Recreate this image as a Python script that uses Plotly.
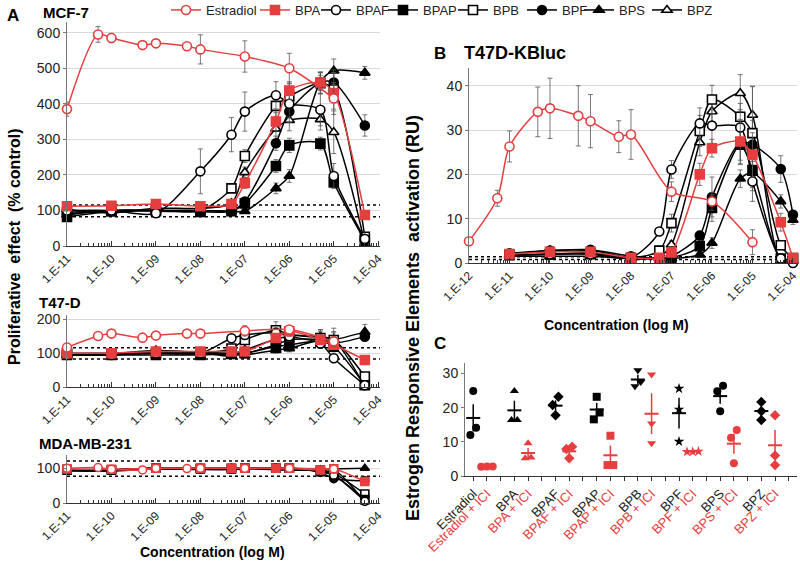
import numpy as np
import plotly.graph_objects as go

RED = "#e63e3f"
BLACK = "#000000"
ERR_COL = "#555555"
GRID = "#d9d9d9"
FONT = "Liberation Sans, Arial, sans-serif"

# ---------------- data ----------------
SERIES = ["Estradiol", "BPA", "BPAF", "BPAP", "BPB", "BPF", "BPS", "BPZ"]

# Panel A: proliferation (% control)
E2_CONC_A = [1e-11, 5e-11, 1e-10, 5e-10, 1e-9, 5e-9, 1e-8, 1e-7, 1e-6, 1e-5]
BP_CONC_A = [1e-11, 1e-10, 1e-9, 1e-8, 5e-8, 1e-7, 5e-7, 1e-6, 5e-6, 1e-5, 5e-5]

MCF7 = {
    "Estradiol": [385, 595, 585, 565, 570, 562, 553, 533, 500, 415],
    "BPA": [112, 113, 118, 112, 118, 177, 350, 437, 460, 430, 87],
    "BPAF": [100, 100, 92, 210, 313, 378, 424, 400, 383, 197, 20],
    "BPAP": [82, 97, 98, 96, 98, 120, 225, 283, 288, 179, 15],
    "BPB": [95, 100, 100, 100, 162, 253, 394, 421, 458, 440, 26],
    "BPF": [90, 100, 100, 100, 100, 125, 289, 378, 460, 460, 339],
    "BPS": [88, 100, 100, 100, 98, 98, 162, 197, 462, 493, 487],
    "BPZ": [103, 93, 106, 106, 120, 207, 330, 354, 356, 320, 7],
}
MCF7_ERR = {
    "Estradiol": [20, 22, 13, 6, 6, 6, 41, 44, 42, 45],
    "BPA": [5, 5, 5, 5, 6, 15, 25, 25, 20, 25, 6],
    "BPAF": [5, 5, 5, 63, 48, 55, 38, 40, 45, 35, 6],
    "BPAP": [5, 5, 5, 5, 5, 8, 18, 20, 18, 15, 5],
    "BPB": [5, 5, 5, 5, 10, 18, 30, 35, 30, 55, 6],
    "BPF": [5, 5, 5, 5, 5, 8, 20, 30, 30, 28, 30],
    "BPS": [5, 5, 5, 5, 5, 5, 15, 18, 25, 33, 18],
    "BPZ": [5, 5, 5, 5, 8, 15, 30, 30, 30, 60, 5],
}

T47D = {
    "Estradiol": [117, 151, 158, 146, 152, 158, 158, 166, 170, 135],
    "BPA": [100, 100, 105, 105, 105, 105, 145, 165, 140, 125, 80],
    "BPAF": [95, 95, 100, 100, 144, 154, 160, 150, 129, 85, 5],
    "BPAP": [95, 95, 95, 95, 98, 100, 120, 125, 135, 119, 5],
    "BPB": [98, 98, 100, 100, 114, 139, 168, 156, 145, 139, 31],
    "BPF": [100, 100, 102, 102, 100, 100, 125, 140, 140, 130, 149],
    "BPS": [95, 95, 102, 102, 95, 95, 109, 114, 140, 140, 163],
    "BPZ": [95, 98, 108, 102, 92, 109, 141, 151, 149, 139, 2],
}
T47D_ERR = {
    "Estradiol": [5, 8, 5, 5, 5, 5, 5, 15, 12, 15],
    "BPA": [4, 4, 4, 4, 4, 5, 12, 15, 15, 12, 4],
    "BPAF": [4, 4, 4, 4, 10, 12, 15, 15, 15, 10, 3],
    "BPAP": [4, 4, 4, 4, 4, 5, 10, 12, 12, 10, 3],
    "BPB": [4, 4, 4, 4, 8, 12, 25, 20, 25, 35, 5],
    "BPF": [4, 4, 4, 4, 4, 5, 10, 12, 12, 12, 10],
    "BPS": [4, 4, 4, 4, 4, 5, 8, 10, 25, 20, 22],
    "BPZ": [4, 4, 4, 4, 4, 8, 15, 15, 20, 25, 3],
}

MDA = {
    "Estradiol": [100, 102, 97, 95, 100, 99, 100, 100, 100, 98],
    "BPA": [98, 97, 100, 100, 100, 100, 100, 100, 95, 98, 62],
    "BPAF": [95, 95, 100, 98, 98, 100, 100, 100, 92, 80, 5],
    "BPAP": [95, 95, 100, 98, 98, 100, 100, 100, 90, 80, 10],
    "BPB": [95, 95, 100, 100, 100, 100, 100, 100, 95, 85, 26],
    "BPF": [95, 95, 100, 100, 100, 100, 100, 100, 88, 70, 64],
    "BPS": [95, 95, 100, 100, 100, 100, 100, 100, 95, 98, 100],
    "BPZ": [92, 92, 98, 96, 96, 98, 96, 94, 95, 96, 4],
}

# control +/- limits (dotted lines)
LIMITS_MCF7 = [115, 82]
LIMITS_T47D = [116, 83]
LIMITS_MDA = [121, 77]

# Panel B: ERE activation (RU)
E2_CONC_B = [1e-12, 5e-12, 1e-11, 5e-11, 1e-10, 5e-10, 1e-9, 5e-9, 1e-8, 1e-7, 1e-6, 1e-5]
BP_CONC_B = [1e-11, 1e-10, 1e-9, 1e-8, 5e-8, 1e-7, 5e-7, 1e-6, 5e-6, 1e-5, 5e-5, 1e-4]

KBLUC = {
    "Estradiol": [4.9, 14.6, 26.3, 34.1, 34.9, 33.2, 32.0, 28.5, 29.0, 16.1, 13.9, 4.7],
    "BPA": [2.0, 2.5, 2.5, 1.2, 1.2, 2.4, 20.0, 25.9, 27.4, 24.4, 9.2, 1.1],
    "BPAF": [1.8, 2.0, 2.0, 1.2, 7.1, 21.1, 31.5, 31.0, 30.6, 18.4, 1.0, 0.0],
    "BPAP": [1.8, 2.0, 2.2, 1.0, 1.0, 1.2, 3.8, 12.4, 26.7, 21.0, 1.0, 1.0],
    "BPB": [1.8, 2.0, 2.2, 1.2, 2.8, 9.0, 29.8, 36.9, 33.0, 29.3, 4.0, 1.1],
    "BPF": [2.2, 2.8, 3.0, 1.5, 1.0, 1.5, 6.2, 14.9, 27.2, 26.7, 21.2, 10.9],
    "BPS": [1.5, 1.5, 1.5, 1.0, 1.0, 1.0, 1.9, 4.5, 19.0, 20.3, 13.9, 9.7],
    "BPZ": [1.8, 2.8, 2.8, 1.2, 1.5, 4.1, 27.2, 34.2, 38.3, 33.4, 0.5, 0.5],
}
KBLUC_ERR = {
    "Estradiol": [0, 1.8, 3.5, 5.6, 6.8, 6.8, 6.0, 3.6, 5.6, 2.2, 2.0, 2.8],
    "BPA": [0.3, 0.3, 0.3, 0.3, 0.3, 0.5, 2.5, 2.0, 5.0, 5.0, 2.0, 0.5],
    "BPAF": [0.3, 0.3, 0.3, 0.3, 0.8, 2.0, 3.5, 4.0, 4.0, 4.5, 0.5, 0.3],
    "BPAP": [0.3, 0.3, 0.3, 0.3, 0.3, 0.3, 1.0, 3.0, 3.5, 4.0, 0.5, 0.3],
    "BPB": [0.3, 0.3, 0.3, 0.3, 1.0, 2.0, 3.5, 3.2, 3.0, 10.5, 1.0, 0.5],
    "BPF": [0.3, 0.3, 0.3, 0.3, 0.3, 0.3, 1.0, 4.5, 5.0, 5.5, 3.0, 1.0],
    "BPS": [0.3, 0.3, 0.3, 0.3, 0.3, 0.3, 0.5, 1.2, 2.0, 4.0, 1.5, 1.0],
    "BPZ": [0.3, 0.3, 0.3, 0.3, 0.5, 1.0, 3.0, 3.5, 4.2, 6.5, 0.5, 0.3],
}
LIMITS_KBLUC = [1.4, 0.8]

# Panel C: triplicates, alone and with ICI
C_NAMES = ["Estradiol", "BPA", "BPAF", "BPAP", "BPB", "BPF", "BPS", "BPZ"]
C_ALONE = [
    [24.9, 14.1, 12.0], [24.9, 16.4, 16.4], [23.2, 20.8, 17.8], [23.2, 18.6, 16.6],
    [31.0, 27.5, 26.3], [25.6, 19.5, 10.1], [26.4, 24.8, 19.0], [21.7, 19.0, 16.4],
]
C_ICI = [
    [2.7, 2.8, 2.8], [9.6, 5.2, 5.4], [8.6, 7.9, 5.2], [11.8, 3.2, 3.2],
    [29.7, 15.4, 9.6], [7.1, 7.2, 7.1], [13.5, 11.2, 3.7], [17.8, 6.0, 3.2],
]
C_SYMBOLS = ["circle", "triangle-up", "diamond", "square", "triangle-down", "star", "circle", "diamond"]

# ---------------- styles ----------------
STYLE = {
    "Estradiol": ("circle", False, RED),
    "BPA": ("square", True, RED),
    "BPAF": ("circle", False, BLACK),
    "BPAP": ("square", True, BLACK),
    "BPB": ("square", False, BLACK),
    "BPF": ("circle", True, BLACK),
    "BPS": ("triangle-up", True, BLACK),
    "BPZ": ("triangle-up", False, BLACK),
}
DRAW_ORDER = ["BPZ", "BPS", "BPF", "BPB", "BPAP", "BPAF", "BPA", "Estradiol"]
# legend key centres (px) in the top strip
LEGEND_PX = [184, 273, 334, 401, 471, 540, 597, 665]


def px_x(p):
    return p / 800


def px_y(p):
    return 1 - p / 563


def legend_key(name):
    i = SERIES.index(name)
    return "legend" if i == 0 else f"legend{i + 1}"


fig = go.Figure()


def add_curve(name, conc, vals, err, xa, ya, size, legend):
    symbol, filled, col = STYLE[name]
    fig.add_trace(go.Scatter(
        x=conc, y=vals, name=name, xaxis=xa, yaxis=ya,
        mode="lines+markers",
        line=dict(color=col, width=1.5, shape="spline", smoothing=0.8),
        marker=dict(symbol=symbol, size=size, color=col if filled else "white",
                    line=dict(color=col, width=1.6)),
        error_y=None if err is None else dict(type="data", array=err, color=ERR_COL,
                                              thickness=0.8, width=2.5),
        legendgroup=name, showlegend=legend, legend=legend_key(name),
        cliponaxis=False,
    ))


for nm in DRAW_ORDER:
    conc_a = E2_CONC_A if nm == "Estradiol" else BP_CONC_A
    conc_b = E2_CONC_B if nm == "Estradiol" else BP_CONC_B
    add_curve(nm, conc_a, MCF7[nm], MCF7_ERR[nm], "x", "y", 9, True)
    add_curve(nm, conc_a, T47D[nm], T47D_ERR[nm], "x2", "y2", 9, False)
    add_curve(nm, conc_a, MDA[nm], None, "x3", "y3", 8, False)
    add_curve(nm, conc_b, KBLUC[nm], KBLUC_ERR[nm], "x4", "y4", 9, False)


# panel C: columns with a blank column between compound pairs
def spread(vals, gap=2.5, step=0.42):
    vals = np.asarray(vals, dtype=float)
    order = np.argsort(vals)
    offs = np.zeros(len(vals))
    groups, cur = [], [order[0]]
    for i in order[1:]:
        if vals[i] - vals[cur[-1]] < gap:
            cur.append(i)
        else:
            groups.append(cur)
            cur = [i]
    groups.append(cur)
    for g in groups:
        for j, idx in enumerate(g):
            offs[idx] = (j - (len(g) - 1) / 2) * step
    return offs


PAIR_STEP = 3
n_cols = PAIR_STEP * len(C_NAMES)
c_text = [""] * n_cols
for k, nm in enumerate(C_NAMES):
    for treat, reps, col in ((0, C_ALONE[k], BLACK), (1, C_ICI[k], RED)):
        pos = k * PAIR_STEP + treat
        c_text[pos] = nm if treat == 0 else f'<span style="color:{RED}">{nm} + ICI</span>'
        reps = np.asarray(reps)
        fig.add_trace(go.Scatter(
            x=pos + spread(reps), y=reps, xaxis="x5", yaxis="y5", mode="markers",
            marker=dict(symbol=C_SYMBOLS[k], size=8, color=col),
            showlegend=False, hoverinfo="y",
        ))
        fig.add_trace(go.Scatter(
            x=[pos], y=[reps.mean()], xaxis="x5", yaxis="y5", mode="markers",
            marker=dict(symbol="line-ew", size=10, line=dict(color=col, width=2)),
            error_y=dict(type="data", array=[reps.std(ddof=1) / np.sqrt(len(reps))],
                         color=col, thickness=1.5, width=0),
            showlegend=False,
        ))


# ---------------- axes ----------------
def minor_vals(lo, hi):
    return [m * 10.0 ** e for e in range(lo, hi) for m in range(2, 10)]


def log_x(domain, lo, hi, anchor, rng):
    return dict(
        domain=domain, type="log", range=rng, anchor=anchor, automargin=False,
        tickmode="array", tickvals=[10.0 ** e for e in range(lo, hi + 1)],
        ticktext=[f"1.E-{-e:02d}" for e in range(lo, hi + 1)],
        tickangle=-45, tickfont=dict(size=12, color="#222"),
        showline=True, linecolor="#333", linewidth=1,
        ticks="inside", ticklen=5, tickcolor="#333",
        minor=dict(tickmode="array", tickvals=minor_vals(lo, hi), ticks="inside",
                   ticklen=3, tickcolor="#333", showgrid=False),
        showgrid=False, zeroline=False,
    )


def lin_y(domain, rng, step, anchor, grid=True):
    return dict(
        domain=domain, range=rng, anchor=anchor, automargin=False,
        tickmode="linear", tick0=0, dtick=step,
        tickfont=dict(size=14, color="#222"), showline=True, linecolor="#777",
        ticks="outside", ticklen=3, tickcolor="#777",
        showgrid=grid, gridcolor=GRID, gridwidth=1, zeroline=False,
    )


xa_dom = [px_x(67), px_x(380)]
fig.update_layout(
    xaxis=log_x(xa_dom, -11, -4, "y", [-11, -3.96]),
    yaxis=lin_y([px_y(246), px_y(22)], [0, 630], 100, "x"),
    xaxis2=log_x(xa_dom, -11, -4, "y2", [-11, -3.96]),
    yaxis2=lin_y([px_y(387), px_y(315)], [0, 213], 100, "x2"),
    xaxis3=log_x(xa_dom, -11, -4, "y3", [-11, -3.96]),
    yaxis3=lin_y([px_y(503), px_y(455)], [0, 138], 100, "x3"),
    xaxis4=log_x([px_x(469), px_x(797)], -12, -4, "y4", [-12, -3.9]),
    yaxis4=lin_y([px_y(263), px_y(68)], [0, 44], 10, "x4"),
    xaxis5=dict(
        domain=[px_x(465), px_x(797)], range=[-0.6, 23.6], anchor="y5", automargin=False,
        tickmode="array", tickvals=list(range(n_cols)), ticktext=c_text, tickangle=-45,
        tickfont=dict(size=13, color="#222"), showline=True, linecolor="#333",
        ticks="outside", ticklen=4, tickcolor="#333", showgrid=False, zeroline=False,
    ),
    yaxis5=lin_y([px_y(476), px_y(363)], [0, 33.1], 10, "x5", grid=False),
)

# dotted control limits
for ya, lims in (("y", LIMITS_MCF7), ("y2", LIMITS_T47D), ("y3", LIMITS_MDA), ("y4", LIMITS_KBLUC)):
    xa = "x" + ya[1:]
    for v in lims:
        fig.add_shape(type="line", xref=f"{xa} domain", yref=ya, x0=0, x1=1, y0=v, y1=v,
                      line=dict(color="black", width=1.5, dash="dot"), layer="below")


def label(text, x, y, size, bold=True, anchor="left", angle=0, color="black"):
    fig.add_annotation(
        text=f"<b>{text}</b>" if bold else text, xref="paper", yref="paper",
        x=px_x(x), y=px_y(y), xanchor=anchor, yanchor="middle", showarrow=False,
        textangle=angle, font=dict(size=size, color=color, family=FONT),
    )


label("A", 5, 15, 17)
label("MCF-7", 41, 12, 15)
label("T47-D", 37, 302, 15)
label("MDA-MB-231", 37, 443, 15)
label("B", 432, 53, 17)
label("T47D-KBluc", 462, 53, 18)
label("C", 432, 343, 17)
label("Concentration (log M)", 212, 552, 14, anchor="center")
label("Concentration (log M)", 616, 325, 14, anchor="center")
label("Proliferative&nbsp; effect&nbsp; (% control)", 14, 247, 16, anchor="center", angle=-90)
label("Estrogen Responsive Elements&nbsp; activation (RU)", 413, 318, 18, anchor="center", angle=-90)

legends = {}
for i, nm in enumerate(SERIES):
    legends[legend_key(nm)] = dict(
        orientation="h", x=px_x(LEGEND_PX[i] - 18), y=px_y(-5), xanchor="left", yanchor="top",
        font=dict(size=13, color="#222"), bgcolor="rgba(0,0,0,0)", itemwidth=30,
        itemclick=False, itemdoubleclick=False,
    )

fig.update_layout(
    width=800, height=563, margin=dict(l=0, r=0, t=0, b=0, autoexpand=False),
    paper_bgcolor="white", plot_bgcolor="white",
    font=dict(family=FONT, color="#222"),
    showlegend=True, **legends,
)

# the page body has a default 8px margin; drop it so the figure fills the window
fig.write_html(
    "out.html",
    config={"displayModeBar": False},
    post_script="document.body.style.margin='0';document.documentElement.style.overflow='hidden';",
)
